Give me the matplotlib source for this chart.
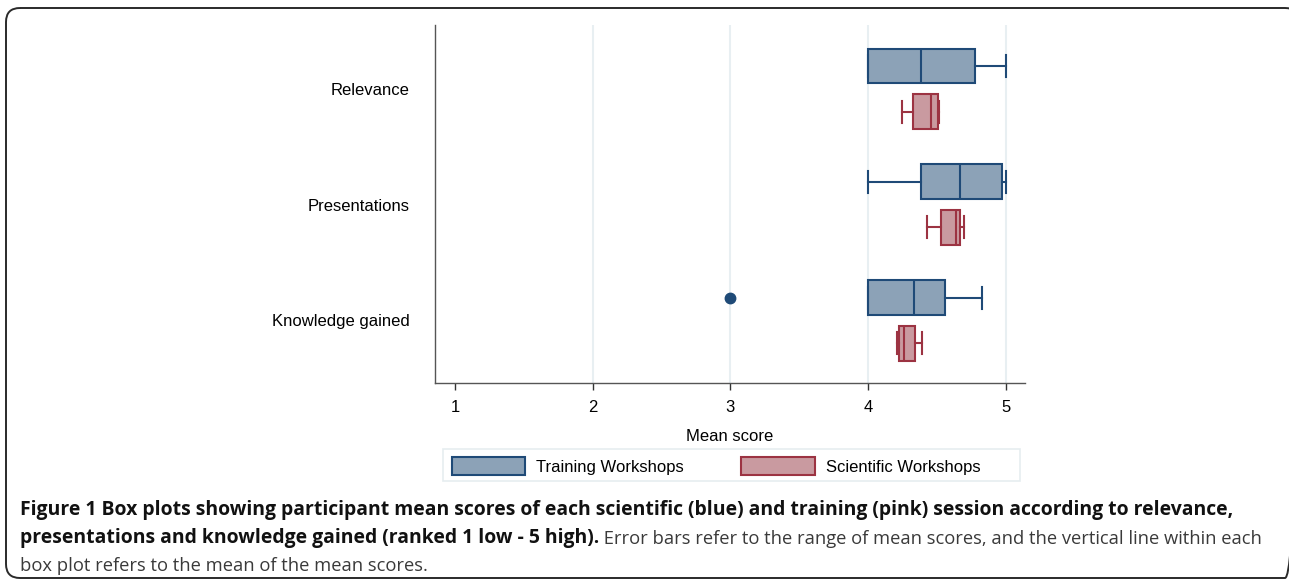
import matplotlib
matplotlib.use("Agg")
import matplotlib.pyplot as plt
from matplotlib.patches import Patch, FancyBboxPatch, Rectangle

# ---------------- data ----------------
categories = ["Relevance", "Presentations", "Knowledge gained"]
series_names = ["Training Workshops", "Scientific Workshops"]

train_min = [4.00, 4.00, 4.00]
train_q1 = [4.00, 4.385, 4.00]
train_mid = [4.385, 4.67, 4.335]
train_q3 = [4.78, 4.975, 4.56]
train_max = [5.00, 5.00, 4.826]
train_outliers = [[], [], [3.0]]

sci_min = [4.25, 4.43, 4.21]
sci_q1 = [4.33, 4.53, 4.225]
sci_mid = [4.46, 4.64, 4.26]
sci_q3 = [4.505, 4.67, 4.34]
sci_max = [4.515, 4.70, 4.395]
sci_outliers = [[], [], []]

x_ticks = [1, 2, 3, 4, 5]
x_label = "Mean score"

caption_bold_1 = ("Figure 1 Box plots showing participant mean scores of each scientific (blue) "
                  "and training (pink) session according to relevance,")
caption_bold_2 = "presentations and knowledge gained (ranked 1 low - 5 high)."
caption_norm_2 = " Error bars refer to the range of mean scores, and the vertical line within each"
caption_norm_3 = "box plot refers to the mean of the mean scores."

# ---------------- style ----------------
BLUE_FILL = "#8ca2b7"
BLUE_EDGE = "#1f4a77"
PINK_FILL = "#c99aa0"
PINK_EDGE = "#9c3342"
GRID = "#e8eff2"
CHART_FONT = ["Liberation Sans", "DejaVu Sans"]
CAP_FONT = ["Open Sans", "DejaVu Sans"]

W, H = 1289, 583
fig = plt.figure(figsize=(W / 100, H / 100), dpi=100)

# background axes in pixel coordinates for border
bg = fig.add_axes([0, 0, 1, 1], zorder=-5)
bg.set_xlim(0, W)
bg.set_ylim(H, 0)
bg.axis("off")
bg.add_patch(FancyBboxPatch((6, 8), W + 10 - 6, 578 - 8,
                            boxstyle="round,pad=0,rounding_size=14",
                            fill=False, edgecolor="#2a2a2a", linewidth=1.4))
# legend frame
bg.add_patch(Rectangle((443, 449), 1020 - 443, 481 - 449, fill=False,
                       edgecolor="#e6edf0", linewidth=1.2))

ax = fig.add_axes([435 / W, 1 - 383 / H, (1025 - 435) / W, (383 - 25) / H])

n = len(categories)
centers = [n - i for i in range(n)]  # 3,2,1
off = 0.197
box_w = 0.30
cap_w = 0.19


def make_stats(lo, q1, med, q3, hi, fl):
    return [dict(whislo=lo[i], q1=q1[i], med=med[i], q3=q3[i], whishi=hi[i],
                 fliers=fl[i], label="") for i in range(len(lo))]


train_stats = make_stats(train_min, train_q1, train_mid, train_q3, train_max, train_outliers)
sci_stats = make_stats(sci_min, sci_q1, sci_mid, sci_q3, sci_max, sci_outliers)

lw = 1.5
for stats, pos, fill, edge in [
    (train_stats, [c + off for c in centers], BLUE_FILL, BLUE_EDGE),
    (sci_stats, [c - off for c in centers], PINK_FILL, PINK_EDGE),
]:
    ax.bxp(stats, positions=pos, widths=box_w, capwidths=cap_w,
           orientation="horizontal", patch_artist=True, manage_ticks=False,
           boxprops=dict(facecolor=fill, edgecolor=edge, linewidth=lw),
           medianprops=dict(color=edge, linewidth=lw),
           whiskerprops=dict(color=edge, linewidth=lw),
           capprops=dict(color=edge, linewidth=lw),
           flierprops=dict(marker="o", markerfacecolor=edge, markeredgecolor=edge,
                           markersize=7.5))

ax.set_xlim(0.855, 5.14)
ax.set_ylim(0.459, 3.552)
ax.set_xticks(x_ticks)
ax.set_xticklabels([str(t) for t in x_ticks], family=CHART_FONT, fontsize=12)
ax.set_yticks(centers)
ax.set_yticklabels(categories, family=CHART_FONT, fontsize=12)
ax.tick_params(axis="y", length=0, pad=18)
ax.tick_params(axis="x", length=5, width=1, color="#333333", pad=7, direction="out")
ax.set_xlabel(x_label, family=CHART_FONT, fontsize=12, labelpad=10)

ax.xaxis.grid(True, color=GRID, linewidth=1.5)
ax.set_axisbelow(True)
gls = ax.xaxis.get_gridlines()
if gls:
    gls[0].set_visible(False)

for s in ["top", "right"]:
    ax.spines[s].set_visible(False)
for s in ["left", "bottom"]:
    ax.spines[s].set_color("#555555")
    ax.spines[s].set_linewidth(1.0)

handles = [Patch(facecolor=BLUE_FILL, edgecolor=BLUE_EDGE, linewidth=1.5),
           Patch(facecolor=PINK_FILL, edgecolor=PINK_EDGE, linewidth=1.5)]
fig.legend(handles, series_names, loc="center left",
           bbox_to_anchor=(452 / W, 1 - 466 / H), ncol=2, frameon=False,
           prop=dict(family=CHART_FONT, size=12), handlelength=4.4,
           handleheight=1.3, handletextpad=0.65, columnspacing=3.45,
           borderpad=0, borderaxespad=0)

# caption
bold_size = 13.95
norm_size = 13.2
t1 = fig.text(20 / W, 1 - 515 / H, caption_bold_1, family=CAP_FONT, fontsize=bold_size,
              fontweight="bold", color="#111111", va="baseline", ha="left")
t2 = fig.text(20 / W, 1 - 543 / H, caption_bold_2, family=CAP_FONT, fontsize=bold_size,
              fontweight="bold", color="#111111", va="baseline", ha="left")
fig.text(20 / W, 1 - 571 / H, caption_norm_3, family=CAP_FONT, fontsize=norm_size,
         color="#3a3a3a", va="baseline", ha="left")
ax.annotate(caption_norm_2, xy=(1, 0), xycoords=t2, va="bottom", ha="left",
            family=CAP_FONT, fontsize=norm_size, color="#3a3a3a",
            annotation_clip=False)

fig.savefig("out.png", dpi=100)
